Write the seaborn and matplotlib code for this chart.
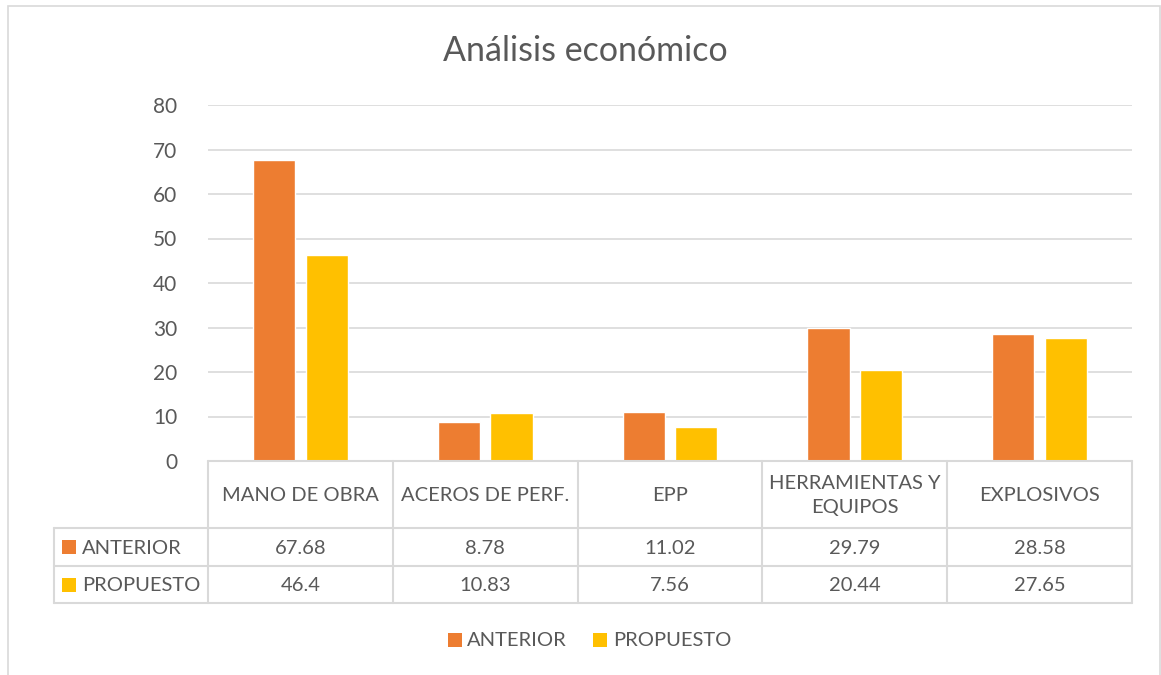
import matplotlib
matplotlib.use("Agg")
import matplotlib.pyplot as plt
import seaborn as sns
import pandas as pd
from matplotlib.lines import Line2D
from matplotlib.patches import Rectangle

categories = ["MANO DE OBRA", "ACEROS DE PERF.", "EPP", "HERRAMIENTAS Y\nEQUIPOS", "EXPLOSIVOS"]
series_names = ["ANTERIOR", "PROPUESTO"]
anterior = [67.68, 8.78, 11.02, 29.79, 28.58]
propuesto = [46.4, 10.83, 7.56, 20.44, 27.65]
anterior_labels = ["67.68", "8.78", "11.02", "29.79", "28.58"]
propuesto_labels = ["46.4", "10.83", "7.56", "20.44", "27.65"]
yticks = [0, 10, 20, 30, 40, 50, 60, 70, 80]
title = "Análisis económico"

colors = ["#ED7D31", "#FFC000"]
text_color = "#595959"
grid_color = "#D9D9D9"

sns.set_theme(style="white")
plt.rcParams["font.family"] = ["Lato", "DejaVu Sans"]

W, H = 1161, 675
fig = plt.figure(figsize=(W / 100, H / 100), dpi=100)

def fx(x):
    return x / W

def fy(y):
    return 1 - y / H

# plot area
ax_l, ax_r, ax_t, ax_b = 208, 1132, 105, 461
ax = fig.add_axes([fx(ax_l), fy(ax_b), fx(ax_r - ax_l), (ax_b - ax_t) / H])

df = pd.DataFrame({
    "cat": categories * 2,
    "serie": [series_names[0]] * len(categories) + [series_names[1]] * len(categories),
    "val": anterior + propuesto,
})
sns.barplot(data=df, x="cat", y="val", hue="serie", palette=colors, order=categories,
            hue_order=series_names, width=0.57, gap=0.2, ax=ax, legend=False,
            saturation=1, errorbar=None)
ax.set_ylim(0, 80)
ax.set_xlim(-0.5, len(categories) - 0.5)
ax.set_yticks(yticks)
ax.set_yticklabels([str(t) for t in yticks], color=text_color, fontsize=15)
ax.tick_params(axis="y", length=0, pad=22)
ax.set_xticks([])
ax.set_xlabel("")
ax.set_ylabel("")
ax.yaxis.grid(True, color=grid_color, linewidth=1.2)
ax.set_axisbelow(True)
for s in ax.spines.values():
    s.set_visible(False)

# chart border
fig.patches.append(Rectangle((fx(8), fy(700)), fx(1160 - 8), (700 - 6) / H,
                             transform=fig.transFigure, fill=False,
                             edgecolor=grid_color, linewidth=1.2))

fig.text(fx(585), fy(51), title, ha="center", va="center", fontsize=24.5, color=text_color)

# data table
lw = 1.5
ncol = len(categories)
col_w = (ax_r - ax_l) / ncol
row_top, row1, row2, row3 = 461, 528, 566, 603
tbl_left = 54

def hline(y, x0, x1):
    fig.add_artist(Line2D([fx(x0), fx(x1)], [fy(y), fy(y)], color=grid_color, lw=lw,
                          transform=fig.transFigure))

def vline(x, y0, y1):
    fig.add_artist(Line2D([fx(x), fx(x)], [fy(y0), fy(y1)], color=grid_color, lw=lw,
                          transform=fig.transFigure))

hline(row_top, ax_l, ax_r)
for y in (row1, row2, row3):
    hline(y, tbl_left, ax_r)
vline(tbl_left, row1, row3)
for i in range(ncol + 1):
    vline(ax_l + i * col_w, row_top, row3)

fs = 14.5
for i, cat in enumerate(categories):
    cx = ax_l + (i + 0.5) * col_w
    fig.text(fx(cx), fy((row_top + row1) / 2 + 1), cat, ha="center", va="center",
             fontsize=fs, color=text_color, linespacing=1.55)
    fig.text(fx(cx), fy((row1 + row2) / 2 + 1), anterior_labels[i], ha="center", va="center",
             fontsize=fs, color=text_color)
    fig.text(fx(cx), fy((row2 + row3) / 2 + 1), propuesto_labels[i], ha="center", va="center",
             fontsize=fs, color=text_color)

for j, (name, c) in enumerate(zip(series_names, colors)):
    cy = (row1 + row2) / 2 if j == 0 else (row2 + row3) / 2
    fig.patches.append(Rectangle((fx(62), fy(cy + 7)), fx(14), 14 / H,
                                 transform=fig.transFigure, facecolor=c, edgecolor="none"))
    fig.text(fx(82), fy(cy + 1), name, ha="left", va="center", fontsize=fs, color=text_color)

# legend
leg_y = 640
leg_items = [(448, 467), (593, 613)]
for (sx, tx), name, c in zip(leg_items, series_names, colors):
    fig.patches.append(Rectangle((fx(sx), fy(leg_y + 7)), fx(14), 14 / H,
                                 transform=fig.transFigure, facecolor=c, edgecolor="none"))
    fig.text(fx(tx), fy(leg_y), name, ha="left", va="center", fontsize=fs, color=text_color)

fig.savefig("out.png", dpi=100)
